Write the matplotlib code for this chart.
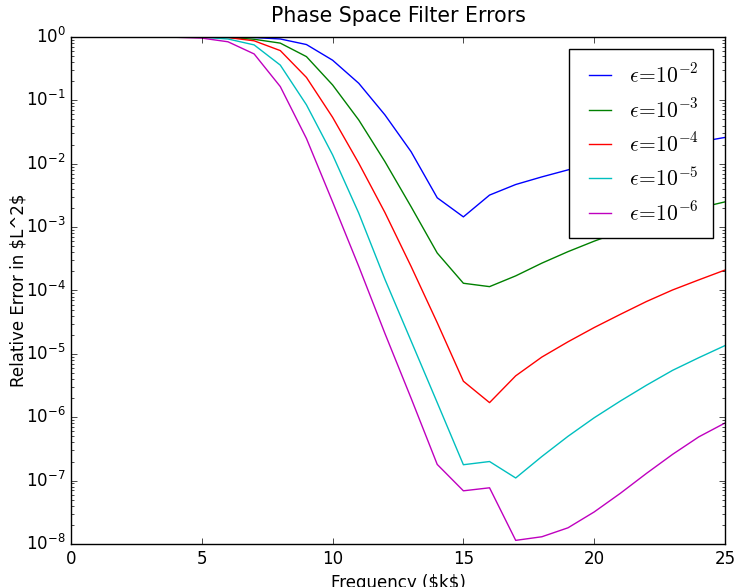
import matplotlib
matplotlib.use("Agg")
import matplotlib.pyplot as plt

plt.style.use("classic")
plt.rcParams["mathtext.fontset"] = "cm"

k = list(range(26))

# relative L^2 error per frequency, one list per epsilon
err_e2 = [1.0, 1.0, 1.0, 1.0, 1.0, 1.0, 0.995, 0.98, 0.93, 0.76, 0.43, 0.186, 0.059,
          0.0155, 0.0029, 0.00145, 0.0032, 0.0047, 0.0062, 0.0080, 0.0103, 0.0125,
          0.015, 0.018, 0.022, 0.026]
err_e3 = [1.0, 1.0, 1.0, 1.0, 1.0, 1.0, 0.99, 0.92, 0.80, 0.49, 0.175, 0.049, 0.0108,
          0.0021, 0.00039, 1.3e-4, 1.15e-4, 1.7e-4, 2.7e-4, 4.1e-4, 6.0e-4, 8.5e-4,
          1.15e-3, 1.5e-3, 2.0e-3, 2.5e-3]
err_e4 = [1.0, 1.0, 1.0, 1.0, 1.0, 0.995, 0.98, 0.87, 0.61, 0.23, 0.054, 0.0102,
          0.0017, 2.4e-4, 3.1e-5, 3.7e-6, 1.7e-6, 4.5e-6, 8.9e-6, 1.55e-5, 2.6e-5,
          4.2e-5, 6.7e-5, 1.02e-4, 1.47e-4, 2.1e-4]
err_e5 = [1.0, 1.0, 1.0, 1.0, 1.0, 0.99, 0.93, 0.75, 0.36, 0.085, 0.0138, 0.00166,
          1.5e-4, 1.6e-5, 1.7e-6, 1.78e-7, 2.0e-7, 1.1e-7, 2.4e-7, 5.0e-7, 9.8e-7,
          1.8e-6, 3.2e-6, 5.5e-6, 8.7e-6, 1.35e-5]
err_e6 = [1.0, 1.0, 1.0, 1.0, 0.99, 0.96, 0.84, 0.54, 0.165, 0.025, 0.0025, 2.4e-4,
          2.1e-5, 2.0e-6, 1.8e-7, 6.9e-8, 7.7e-8, 1.14e-8, 1.3e-8, 1.8e-8, 3.2e-8,
          6.3e-8, 1.3e-7, 2.6e-7, 4.9e-7, 8.1e-7]

series = [err_e2, err_e3, err_e4, err_e5, err_e6]
labels = [r"$\epsilon\!=\!10^{-2}$", r"$\epsilon\!=\!10^{-3}$",
          r"$\epsilon\!=\!10^{-4}$", r"$\epsilon\!=\!10^{-5}$",
          r"$\epsilon\!=\!10^{-6}$"]
colors = ["b", "g", "r", "c", "m"]

fig = plt.figure(figsize=(7.36, 5.87), dpi=100)
fig.subplots_adjust(left=0.0965, right=0.985, top=0.937, bottom=0.0733)
ax = fig.add_subplot(111)

for vals, lab, col in zip(series, labels, colors):
    ax.semilogy(k, vals, color=col, label=lab)

ax.set_xlim(0, 25)
ax.set_ylim(1e-8, 1)
ax.set_title("Phase Space Filter Errors", fontsize=14.8, pad=11)
ax.set_xlabel("Frequency (\\$k\\$)")
ax.set_ylabel("Relative Error in \\$L^2\\$", labelpad=-1)
ax.legend(loc="upper right", fontsize=15.5, labelspacing=0.5, borderpad=0.65,
          handlelength=1.6, handletextpad=0.55, borderaxespad=0.55)

fig.savefig("out.png", dpi=100)
